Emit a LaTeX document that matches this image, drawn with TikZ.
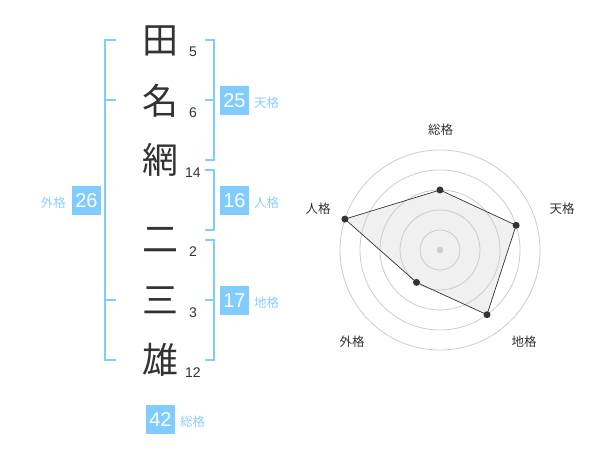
\documentclass[tikz,border=0pt]{standalone}
\usepackage{fontspec}
\setmainfont{Liberation Sans}
\newfontfamily\jp{Noto Sans CJK JP}
\definecolor{lb}{HTML}{80CCFF}
\definecolor{lbtext}{HTML}{8CCFF5}
\definecolor{ink}{HTML}{333333}
\definecolor{ring}{HTML}{CCCCCC}
\begin{document}
\begin{tikzpicture}[x=1pt,y=-1pt,
  kanji/.style={font=\jp\fontsize{36}{36}\selectfont, text=ink, inner sep=0pt},
  strokes/.style={font=\fontsize{14}{14}\selectfont, text=ink, inner sep=0pt},
  bracket/.style={draw=lb, line width=2pt},
  numbox/.style={fill=lb, text=white, minimum width=29pt, minimum height=29pt, inner sep=0pt, font=\fontsize{20}{20}\selectfont},
  kaku/.style={font=\jp\fontsize{12.5}{12.5}\selectfont, text=lbtext, inner sep=0pt},
  rlabel/.style={font=\jp\fontsize{12.5}{12.5}\selectfont, text=ink, inner sep=0pt},
  dot/.style={circle, fill=ink, inner sep=0pt, minimum size=7pt}
]
\useasboundingbox (0,0) rectangle (600,470);

% kanji
\node[kanji] (k1) at (160,41) {田};
\node[kanji] (k2) at (160,101) {名};
\node[kanji] (k3) at (160,160) {網};
\node[kanji] (k4) at (160,240) {二};
\node[kanji] (k5) at (160,300) {三};
\node[kanji] (k6) at (160,360) {雄};

% stroke counts
\node[strokes] (s1) at (193,52) {5};
\node[strokes] (s2) at (193,113) {6};
\node[strokes] (s3) at (193,173) {14};
\node[strokes] (s4) at (193,252) {2};
\node[strokes] (s5) at (193,313) {3};
\node[strokes] (s6) at (193,373) {12};

% brackets
\draw[bracket] (116,40) -- (105,40) -- (105,360) -- (116,360);
\draw[bracket] (105,100) -- (116,100);
\draw[bracket] (105,300) -- (116,300);
\draw[bracket] (205,40) -- (214,40) -- (214,160) -- (205,160);
\draw[bracket] (214,100) -- (205,100);
\draw[bracket] (205,170) -- (214,170) -- (214,230) -- (205,230);
\draw[bracket] (205,240) -- (214,240) -- (214,360) -- (205,360);
\draw[bracket] (214,300) -- (205,300);

% boxes
\node[numbox] (b1) at (234.5,100.5) {25};
\node[kaku, anchor=west] (l1) at (254,103) {天格};
\node[numbox] (b2) at (234.5,200.5) {16};
\node[kaku, anchor=west] (l2) at (254,203) {人格};
\node[numbox] (b3) at (234.5,300.5) {17};
\node[kaku, anchor=west] (l3) at (254,303) {地格};
\node[numbox] (b4) at (86.5,200.5) {26};
\node[kaku, anchor=east] (l4) at (66,203) {外格};
\node[numbox] (b5) at (160.5,419.5) {42};
\node[kaku, anchor=west] (l5) at (180,422) {総格};

% radar
\coordinate (c) at (440,250);
\coordinate (p1) at (440,190);
\coordinate (p2) at (516.1,225.3);
\coordinate (p3) at (487.0,314.7);
\coordinate (p4) at (416.5,282.4);
\coordinate (p5) at (344.9,219.1);
\fill[gray!12] (p1) -- (p2) -- (p3) -- (p4) -- (p5) -- cycle;
\foreach \r in {20,40,60,80,100} \draw[ring, line width=0.8pt] (c) circle[radius=\r];
\fill[ring] (c) circle[radius=3.2];
\draw[ink, line width=0.7pt] (p1) -- (p2) -- (p3) -- (p4) -- (p5) -- cycle;
\foreach \p in {p1,p2,p3,p4,p5} \fill[ink] (\p) circle[radius=3.5];

\node[rlabel] (r1) at (440.5,130) {総格};
\node[rlabel] (r2) at (562,209) {天格};
\node[rlabel] (r3) at (524,342) {地格};
\node[rlabel] (r4) at (352,342) {外格};
\node[rlabel] (r5) at (318,209) {人格};
\end{tikzpicture}
\end{document}
